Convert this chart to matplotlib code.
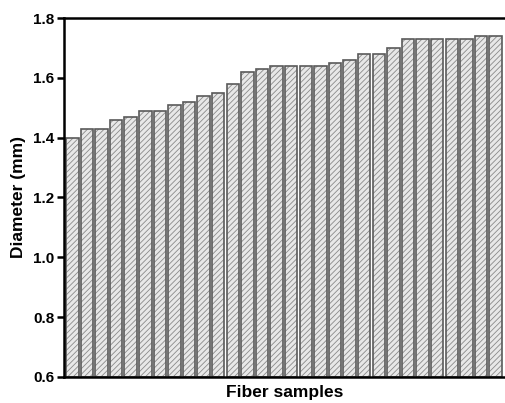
import matplotlib
matplotlib.use("Agg")
import matplotlib.pyplot as plt
import numpy as np

plt.rcParams['font.family'] = ['Liberation Sans', 'DejaVu Sans']
plt.rcParams['font.weight'] = 'bold'
plt.rcParams['hatch.linewidth'] = 0.6

# diameters of the fiber samples, sorted
diameters = [1.40, 1.43, 1.43, 1.46, 1.47, 1.49, 1.49, 1.51, 1.52, 1.54,
             1.55, 1.58, 1.62, 1.63, 1.64, 1.64, 1.64, 1.64, 1.65, 1.66,
             1.68, 1.68, 1.70, 1.73, 1.73, 1.73, 1.73, 1.73, 1.74, 1.74]
y_ticks = [0.6, 0.8, 1.0, 1.2, 1.4, 1.6, 1.8]

x = np.arange(len(diameters))
heights = np.array(diameters) - 0.6

fig = plt.figure(figsize=(5.05, 4.03), dpi=100)
ax = fig.add_axes([0.127, 0.065, 0.873, 0.89])

# hatch layer first, then the dark outline on top
ax.bar(x, heights, width=0.85, bottom=0.6, color='#e8e8e8',
       edgecolor='#8a8a8a', hatch='//////', linewidth=0)
ax.bar(x, heights, width=0.85, bottom=0.6, fill=False,
       edgecolor='#5a5a5a', linewidth=1.2)

ax.set_ylim(0.6, 1.8)
ax.set_xlim(-0.56, 29.64)
ax.set_yticks(y_ticks)
ax.set_yticklabels(["%.1f" % v for v in y_ticks], fontsize=11, fontweight='bold')
ax.set_xticks([])

for side in ['left', 'bottom', 'top']:
    ax.spines[side].set_linewidth(1.8)
ax.spines['right'].set_visible(False)
ax.tick_params(axis='y', direction='out', length=5, width=1.8, pad=2)

ax.set_xlabel("Fiber samples", fontsize=12.5, fontweight='bold', labelpad=6)
ax.set_ylabel("Diameter (mm)", fontsize=12.5, fontweight='bold', labelpad=5)

fig.savefig("out.png", dpi=100)
